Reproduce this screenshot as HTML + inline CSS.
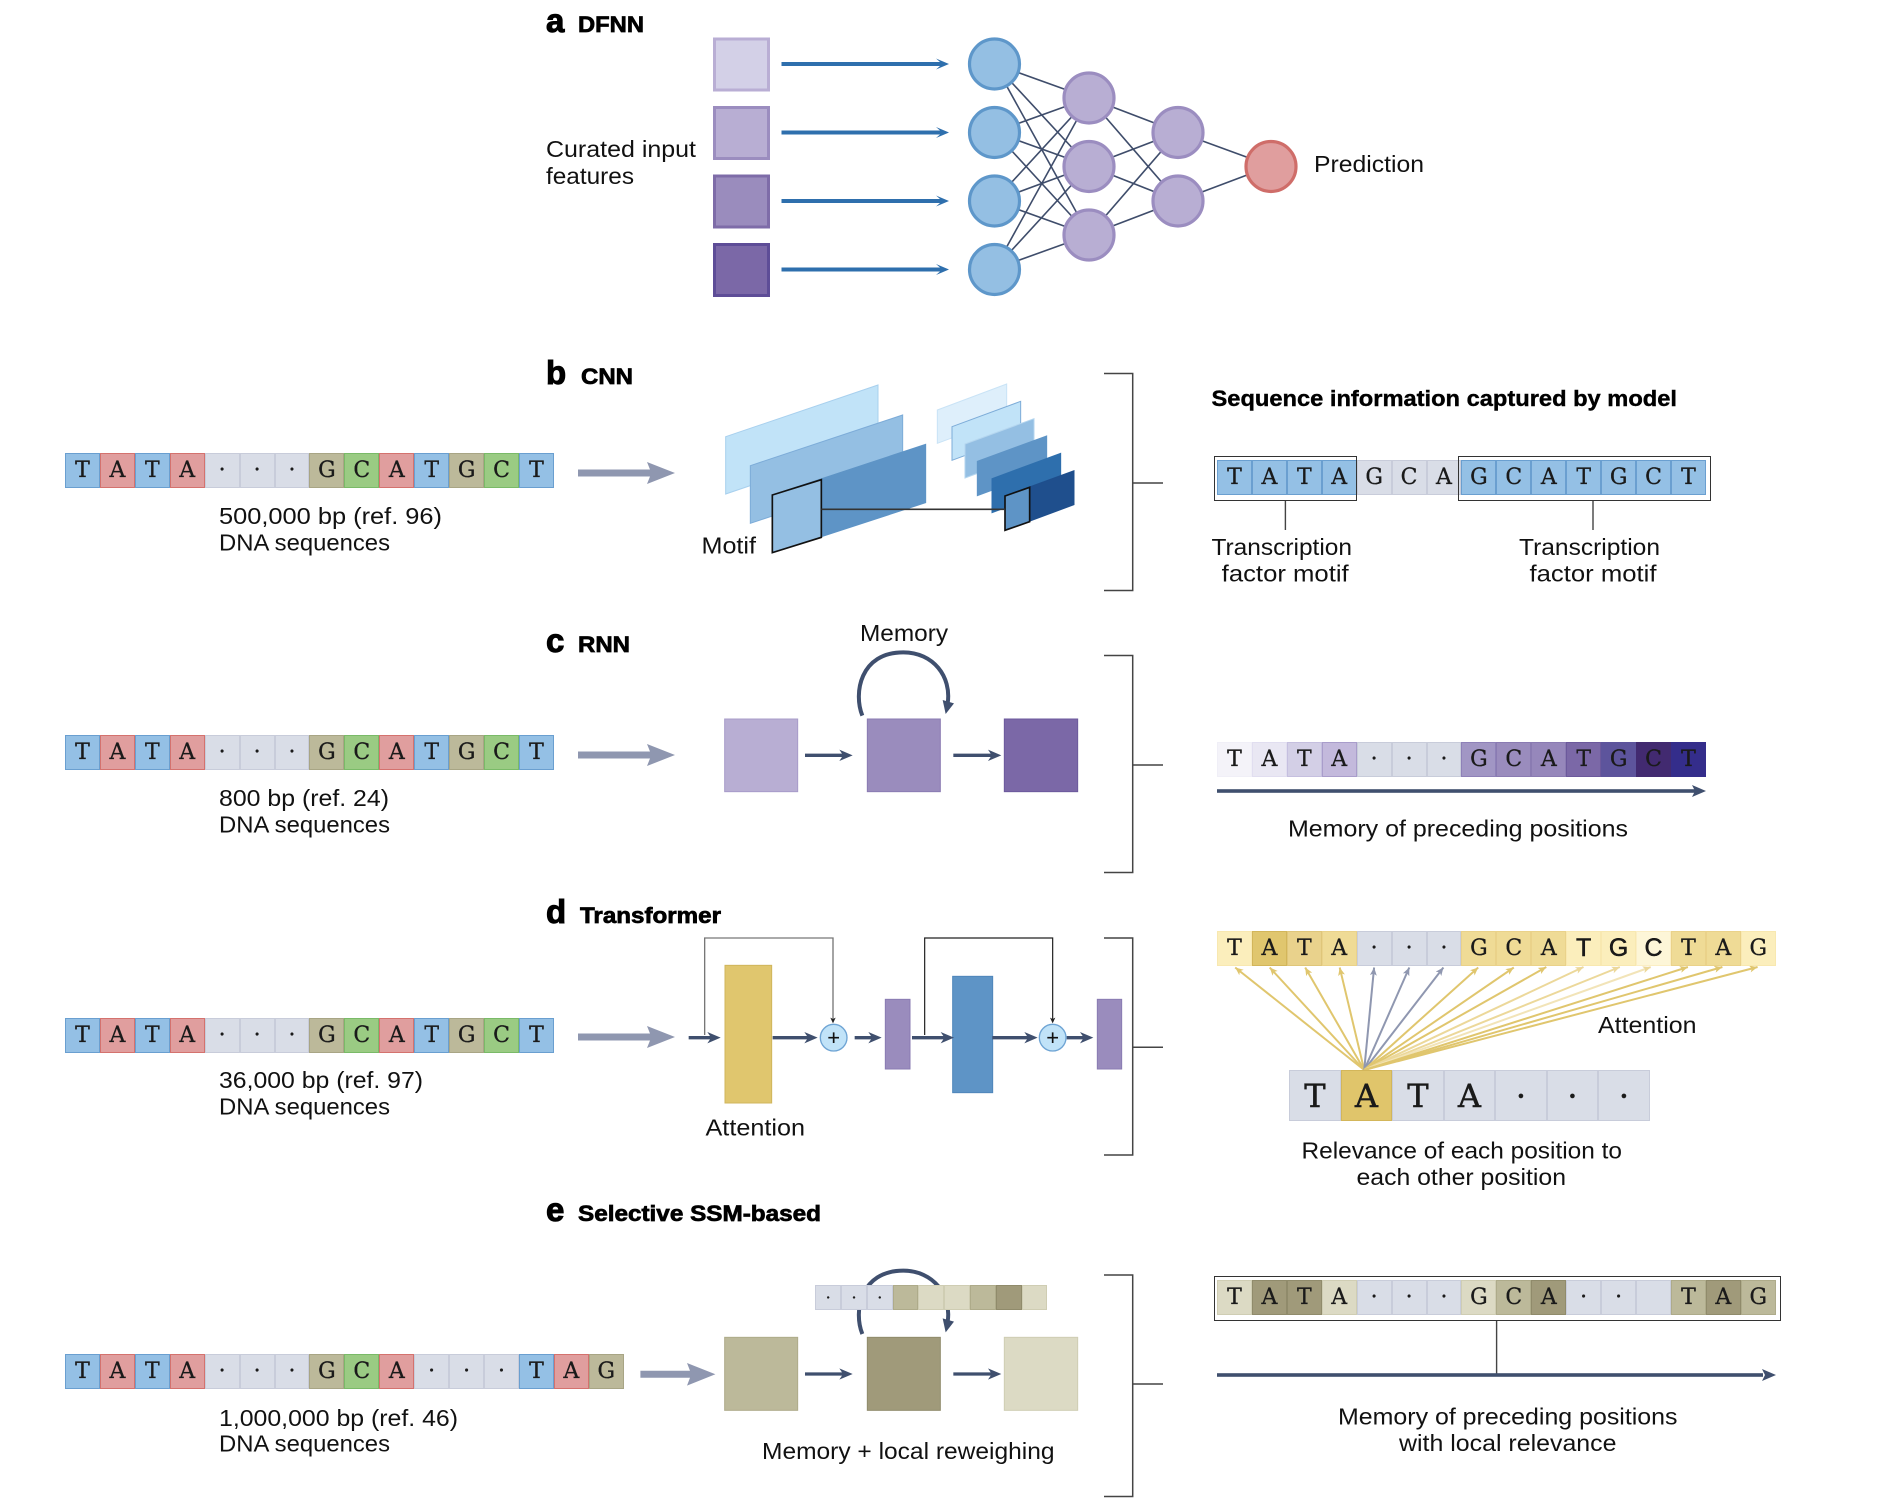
<!DOCTYPE html>
<html>
<head>
<meta charset="utf-8">
<style>
html,body{margin:0;padding:0;background:#fff}
body{position:relative;width:1884px;height:1502px;overflow:hidden}
svg{position:absolute;left:0;top:0}
text{font-family:"Liberation Sans",sans-serif;font-size:23px;fill:#111}
.h{font-weight:bold;font-size:22px;stroke:#000;stroke-width:.7px;fill:#000}
.l{font-weight:bold;font-size:33px;stroke:#000;stroke-width:1px;fill:#000}
.seq{position:absolute;display:flex;font-family:"DejaVu Serif",serif;font-size:22px;color:#1a1a1a;-webkit-text-stroke:.3px #1a1a1a;--w:34.93px;--h:34.7px;--l:34.800px}
.seq span{flex:0 0 var(--w);width:var(--w);height:var(--h);line-height:var(--l);box-sizing:border-box;border:1.5px solid;text-align:center;overflow:hidden}
.seq span.s{font:25px/32px "Liberation Sans",sans-serif;-webkit-text-stroke:.5px #111}
.T{background:#94c0e5;border-color:#6a9fd0!important}
.A{background:#e09e9e;border-color:#d4726e!important}
.D{background:#d9dde7;border-color:#c8ccda!important}
.G{background:#bcb99a;border-color:#a8a585!important}
.C{background:#9acb83;border-color:#7aba68!important}
.y0{background:#fdf6d8;border-color:#fbeec4!important}
.y1{background:#fbeebc;border-color:#f8e8b0!important}
.y2{background:#efdb96;border-color:#ead28a!important}
.y3{background:#e9d28c;border-color:#dfc67a!important}
.y4{background:#e0c66e;border-color:#d3b65a!important}
.o1{background:#dcdac4;border-color:#cfcdb3!important}
.o2{background:#bcb99a;border-color:#aeab8a!important}
.o3{background:#a09a7a;border-color:#908b6b!important}
.box{position:absolute;box-sizing:border-box;border:1.5px solid #333}
</style>
</head>
<body>
<svg width="1884" height="1502" viewBox="0 0 1884 1502">
<defs>
<marker id="my" markerUnits="userSpaceOnUse" markerWidth="9" markerHeight="8" refX="8" refY="3.5" orient="auto"><path d="M0 0L8 3.5L0 7L2 3.5z" fill="#e0c66e"/></marker>
<marker id="ml" markerUnits="userSpaceOnUse" markerWidth="9" markerHeight="8" refX="8" refY="3.5" orient="auto"><path d="M0 0L8 3.5L0 7L2 3.5z" fill="#ecd89a"/></marker>
<marker id="mg" markerUnits="userSpaceOnUse" markerWidth="9" markerHeight="8" refX="8" refY="3.5" orient="auto"><path d="M0 0L8 3.5L0 7L2 3.5z" fill="#8f97b0"/></marker>
</defs>

<!-- a DFNN -->
<text class="l" x="546" y="32">a</text>
<text class="h" x="578" y="32" textLength="66" lengthAdjust="spacingAndGlyphs">DFNN</text>
<text x="546" y="157" textLength="150" lengthAdjust="spacingAndGlyphs">Curated input</text>
<text x="546" y="184" textLength="88" lengthAdjust="spacingAndGlyphs">features</text>
<text x="1314" y="172" textLength="110" lengthAdjust="spacingAndGlyphs">Prediction</text>
<rect x="714.5" y="39" width="54" height="51" fill="#d3d0e7" stroke="#b9aed4" stroke-width="3"/>
<rect x="714.5" y="107.5" width="54" height="51" fill="#b8aed3" stroke="#9b8dbf" stroke-width="3"/>
<rect x="714.5" y="176" width="54" height="51" fill="#9a8cbd" stroke="#7e6ca8" stroke-width="3"/>
<rect x="714.5" y="244.5" width="54" height="51" fill="#7b68a7" stroke="#5e4d97" stroke-width="3"/>
<g fill="#2e6fad">
<path d="M781.5 62H940L936 58.500L949 64L936 69.500L940 66H781.500Z"/>
<path d="M781.5 130.500H940L936 127L949 132.500L936 138L940 134.500H781.500Z"/>
<path d="M781.5 199H940L936 195.500L949 201L936 206.500L940 203H781.500Z"/>
<path d="M781.5 267.500H940L936 264L949 269.500L936 275L940 271.500H781.500Z"/>
</g>
<g stroke="#3f4d6b" stroke-width="1.6">
<path fill="none" d="M994.5 64L1089 98M994.5 64L1089 166M994.5 64L1089 235M994.5 132L1089 98M994.5 132L1089 166M994.5 132L1089 235M994.5 201L1089 98M994.5 201L1089 166M994.5 201L1089 235M994.5 269L1089 98M994.5 269L1089 166M994.5 269L1089 235M1089 98L1178 132M1089 98L1178 201M1089 166L1178 132M1089 166L1178 201M1089 235L1178 132M1089 235L1178 201M1178 132L1271 166M1178 201L1271 166"/>
</g>
<g fill="#94bfe3" stroke="#5e97ca" stroke-width="3.2">
<circle cx="994.500" cy="64" r="25"/><circle cx="994.500" cy="132.500" r="25"/><circle cx="994.500" cy="201" r="25"/><circle cx="994.500" cy="269.500" r="25"/>
</g>
<g fill="#b8aed3" stroke="#9b8dc0" stroke-width="3.2">
<circle cx="1089" cy="98" r="25"/><circle cx="1089" cy="166.500" r="25"/><circle cx="1089" cy="235" r="25"/>
<circle cx="1178" cy="132.500" r="25"/><circle cx="1178" cy="201" r="25"/>
</g>
<circle cx="1271" cy="166.500" r="25" fill="#e09e9e" stroke="#cf6d69" stroke-width="3.2"/>

<!-- Left labels and big arrows -->
<g fill="#8f97b0">
<path d="M578 469.500H650L647 462L675 473L647 484L650 476.500H578Z"/>
<path d="M578 751.500H650L647 744L675 755L647 766L650 758.500H578Z"/>
<path d="M578 1033.500H650L647 1026L675 1037L647 1048L650 1040.500H578Z"/>
<path d="M640.400 1370.800H690L687 1363L715.400 1374.300L687 1385.600L690 1377.800H640.400Z"/>
</g>
<text x="219" y="524" textLength="223" lengthAdjust="spacingAndGlyphs">500,000 bp (ref. 96)</text>
<text x="219" y="550.500" textLength="171" lengthAdjust="spacingAndGlyphs">DNA sequences</text>
<text x="219" y="806" textLength="170" lengthAdjust="spacingAndGlyphs">800 bp (ref. 24)</text>
<text x="219" y="832.500" textLength="171" lengthAdjust="spacingAndGlyphs">DNA sequences</text>
<text x="219" y="1088" textLength="204" lengthAdjust="spacingAndGlyphs">36,000 bp (ref. 97)</text>
<text x="219" y="1114.500" textLength="171" lengthAdjust="spacingAndGlyphs">DNA sequences</text>
<text x="219" y="1426" textLength="239" lengthAdjust="spacingAndGlyphs">1,000,000 bp (ref. 46)</text>
<text x="219" y="1451.700" textLength="171" lengthAdjust="spacingAndGlyphs">DNA sequences</text>

<!-- b CNN -->
<text class="l" x="546" y="384">b</text>
<text class="h" x="581" y="384" textLength="52" lengthAdjust="spacingAndGlyphs">CNN</text>
<text class="h" x="1211.500" y="406" textLength="465.500" lengthAdjust="spacingAndGlyphs" style="stroke-width:.4px">Sequence information captured by model</text>
<g transform="translate(680,350) scale(.33333)">
<polygon points="137,260 594,105 594,277 137,432" fill="#c1e3f8" stroke="#a8d0ee" stroke-width="3"/>
<polygon points="211,347 668,195 668,368 211,520" fill="#94bfe3" stroke="#7dacd8" stroke-width="3"/>
<polygon points="277,435 737,283 737,458 277,608" fill="#5e94c6" stroke="#5e94c6" stroke-width="3"/>
<polygon points="277,435 424,389 424,562 277,608" fill="#94bfe3" stroke="#111" stroke-width="5"/>
<polygon points="772,180 980,102 980,203 772,280" fill="#deeffb" stroke="#c9e3f6" stroke-width="3"/>
<polygon points="816,230 1022,154 1022,255 816,331" fill="#c1e3f8" stroke="#7dacd8" stroke-width="3"/>
<polygon points="855,282 1062,206 1062,307 855,384" fill="#94bfe3" stroke="#b5d6ef" stroke-width="3"/>
<polygon points="892,334 1100,258 1100,360 892,437" fill="#5e94c6" stroke="#5e94c6" stroke-width="3"/>
<polygon points="936,386 1142,310 1142,412 936,488" fill="#2e6fad" stroke="#2e6fad" stroke-width="3"/>
<polygon points="975,438 1182,362 1182,464 975,541" fill="#1f4f8d" stroke="#1f4f8d" stroke-width="3"/>
<polygon points="975,438 1049,412 1049,515 975,541" fill="#5e94c6" stroke="#111" stroke-width="5"/>
<line x1="424" y1="478" x2="975" y2="478" stroke="#333" stroke-width="5"/>
</g>
<text x="701.500" y="553.300" textLength="54.500" lengthAdjust="spacingAndGlyphs">Motif</text>
<path d="M1104 373.500H1132.700V590.500H1104M1132.700 483H1163" fill="none" stroke="#444" stroke-width="1.5"/>
<path d="M1285.400 500V530M1593 500V530" fill="none" stroke="#444" stroke-width="1.4"/>
<text x="1211.500" y="555" textLength="140.500" lengthAdjust="spacingAndGlyphs">Transcription</text>
<text x="1221.700" y="581.700" textLength="127" lengthAdjust="spacingAndGlyphs">factor motif</text>
<text x="1519" y="555" textLength="141" lengthAdjust="spacingAndGlyphs">Transcription</text>
<text x="1529.500" y="581.700" textLength="127" lengthAdjust="spacingAndGlyphs">factor motif</text>

<!-- c RNN -->
<text class="l" x="546" y="652">c</text>
<text class="h" x="578" y="652" textLength="52" lengthAdjust="spacingAndGlyphs">RNN</text>
<text x="860" y="641" textLength="88" lengthAdjust="spacingAndGlyphs">Memory</text>
<g transform="translate(680,620) scale(.33333)">
<rect x="134" y="297" width="219" height="218" fill="#b8aed3" stroke="#a89cc9" stroke-width="3"/>
<rect x="562" y="297" width="219" height="218" fill="#9a8cbd" stroke="#8a7bb2" stroke-width="3"/>
<rect x="973" y="297" width="220" height="218" fill="#7b68a7" stroke="#6c599c" stroke-width="3"/>
<path d="M547 287C520 220 540 97 670 97C760 97 815 170 803 250" fill="none" stroke="#3f4f6e" stroke-width="12"/>
<polygon points="788,240 822,250 797,282" fill="#3f4f6e"/>
<path d="M375 401H486L478 389L518 406L478 423L486 411H375ZM820 401H932L924 389L964 406L924 423L932 411H820Z" fill="#3f4f6e"/>
</g>
<path d="M1104 655.500H1132.700V872.500H1104M1132.700 765H1163" fill="none" stroke="#444" stroke-width="1.5"/>
<rect x="1217" y="789.200" width="478" height="3.600" fill="#3f4f6e"/>
<polygon points="1692,785 1706,791 1692,797 1695,791" fill="#3f4f6e"/>
<text x="1288" y="836.700" textLength="340" lengthAdjust="spacingAndGlyphs">Memory of preceding positions</text>

<!-- d Transformer -->
<text class="l" x="546" y="923">d</text>
<text class="h" x="580" y="923" textLength="141" lengthAdjust="spacingAndGlyphs">Transformer</text>
<g transform="translate(680,920) scale(.33333)">
<path d="M74 345V54H459V300" fill="none" stroke="#777" stroke-width="4"/>
<path d="M734 345V54H1118V300" fill="none" stroke="#222" stroke-width="3.600"/>
<polygon points="451,293 459,310 467,293 459,297" fill="#222"/>
<polygon points="1110,293 1118,310 1126,293 1118,297" fill="#222"/>
<rect x="135" y="136" width="140" height="413" fill="#e0c66e" stroke="#d0b65c" stroke-width="3"/>
<rect x="616" y="238" width="74" height="209" fill="#9a8cbd" stroke="#8a7bb2" stroke-width="3"/>
<rect x="818" y="169" width="120" height="349" fill="#5e94c6" stroke="#4f86bb" stroke-width="3"/>
<rect x="1252" y="238" width="73" height="209" fill="#9a8cbd" stroke="#8a7bb2" stroke-width="3"/>
<path d="M26 348H90L82 336L122 353L82 370L90 358H26ZM278 348H381L373 336L413 353L373 370L381 358H278ZM524 348H573L565 336L605 353L565 370L573 358H524ZM696 348H790L782 336L822 353L782 370L790 358H696ZM937 348H1041L1033 336L1073 353L1033 370L1041 358H937ZM1160 348H1208L1200 336L1240 353L1200 370L1208 358H1160Z" fill="#3f4f6e"/>
<circle cx="461" cy="353" r="40" fill="#c1e3f8" stroke="#6ea4d4" stroke-width="4"/>
<circle cx="1118" cy="353" r="40" fill="#c1e3f8" stroke="#6ea4d4" stroke-width="4"/>
<path d="M445 353H477M461 337V369M1102 353H1134M1118 337V369" stroke="#111" stroke-width="5" fill="none"/>
</g>
<text x="705.500" y="1135.700" textLength="99.500" lengthAdjust="spacingAndGlyphs">Attention</text>
<path d="M1104 938H1132.700V1155H1104M1132.700 1047.300H1163" fill="none" stroke="#444" stroke-width="1.5"/>
<g fill="none" stroke-width="2">
<path stroke="#e0c66e" marker-end="url(#my)" d="M1364.200 1070L1235.200 967.500"/>
<path stroke="#e0c66e" marker-end="url(#my)" d="M1364.200 1070L1269.700 967.500"/>
<path stroke="#e0c66e" marker-end="url(#my)" d="M1364.200 1070L1305.200 967.500"/>
<path stroke="#e0c66e" marker-end="url(#my)" d="M1364.200 1070L1339.700 967.500"/>
<path stroke="#8f97b0" marker-end="url(#mg)" d="M1364.200 1070L1374.100 967.500"/>
<path stroke="#8f97b0" marker-end="url(#mg)" d="M1364.200 1070L1409.300 967.500"/>
<path stroke="#8f97b0" marker-end="url(#mg)" d="M1364.200 1070L1443.400 967.500"/>
<path stroke="#e0c66e" marker-end="url(#my)" d="M1364.200 1070L1478.200 967.500"/>
<path stroke="#e0c66e" marker-end="url(#my)" d="M1364.200 1070L1513.800 967.500"/>
<path stroke="#e0c66e" marker-end="url(#my)" d="M1364.200 1070L1546.300 967"/>
<path stroke="#ecd89a" marker-end="url(#ml)" d="M1364.200 1070L1583.500 967"/>
<path stroke="#ecd89a" marker-end="url(#ml)" d="M1364.200 1070L1619.800 967"/>
<path stroke="#f2e4b8" marker-end="url(#ml)" d="M1364.200 1070L1650.800 967"/>
<path stroke="#e0c66e" marker-end="url(#my)" d="M1364.200 1070L1687.900 967"/>
<path stroke="#e0c66e" marker-end="url(#my)" d="M1364.200 1070L1722.400 967"/>
<path stroke="#e0c66e" marker-end="url(#my)" d="M1364.200 1070L1757.600 967"/>
</g>
<text x="1598" y="1033" textLength="98.500" lengthAdjust="spacingAndGlyphs">Attention</text>
<text x="1301.500" y="1158.300" textLength="320.500" lengthAdjust="spacingAndGlyphs">Relevance of each position to</text>
<text x="1356.500" y="1185" textLength="209.500" lengthAdjust="spacingAndGlyphs">each other position</text>

<!-- e SSM -->
<text class="l" x="546" y="1221">e</text>
<text class="h" x="578" y="1221" textLength="243" lengthAdjust="spacingAndGlyphs">Selective SSM-based</text>
<g transform="translate(680,1260) scale(.33333)">
<rect x="134" y="232" width="219" height="219" fill="#bcb99a" stroke="#aeab8a" stroke-width="3"/>
<rect x="562" y="232" width="219" height="219" fill="#a09a7a" stroke="#908b6b" stroke-width="3"/>
<rect x="973" y="232" width="220" height="219" fill="#dcdac4" stroke="#cfcdb3" stroke-width="3"/>
<path d="M547 222C520 155 540 32 670 32C760 32 815 105 803 185" fill="none" stroke="#3f4f6e" stroke-width="12"/>
<polygon points="788,175 822,185 797,217" fill="#3f4f6e"/>
<path d="M375 337H486L478 325L518 342L478 359L486 347H375ZM820 337H932L924 325L964 342L924 359L932 347H820Z" fill="#3f4f6e"/>
</g>
<text x="762" y="1459" textLength="292.500" lengthAdjust="spacingAndGlyphs">Memory + local reweighing</text>
<path d="M1104 1275H1132.700V1496.500H1104M1132.700 1384H1163" fill="none" stroke="#444" stroke-width="1.5"/>
<path d="M1496.600 1320V1375" fill="none" stroke="#444" stroke-width="1.4"/>
<rect x="1217" y="1373.200" width="546" height="3.600" fill="#3f4f6e"/>
<polygon points="1762,1369 1776,1375 1762,1381 1765,1375" fill="#3f4f6e"/>
<text x="1338" y="1424.300" textLength="339.500" lengthAdjust="spacingAndGlyphs">Memory of preceding positions</text>
<text x="1399" y="1451" textLength="217.500" lengthAdjust="spacingAndGlyphs">with local relevance</text>
</svg>

<!-- Left sequences -->
<div class="seq" style="left:65px;top:453px"><span class="T">T</span><span class="A">A</span><span class="T">T</span><span class="A">A</span><span class="D">·</span><span class="D">·</span><span class="D">·</span><span class="G">G</span><span class="C">C</span><span class="A">A</span><span class="T">T</span><span class="G">G</span><span class="C">C</span><span class="T">T</span></div>
<div class="seq" style="left:65px;top:735px"><span class="T">T</span><span class="A">A</span><span class="T">T</span><span class="A">A</span><span class="D">·</span><span class="D">·</span><span class="D">·</span><span class="G">G</span><span class="C">C</span><span class="A">A</span><span class="T">T</span><span class="G">G</span><span class="C">C</span><span class="T">T</span></div>
<div class="seq" style="left:65px;top:1018px"><span class="T">T</span><span class="A">A</span><span class="T">T</span><span class="A">A</span><span class="D">·</span><span class="D">·</span><span class="D">·</span><span class="G">G</span><span class="C">C</span><span class="A">A</span><span class="T">T</span><span class="G">G</span><span class="C">C</span><span class="T">T</span></div>
<div class="seq" style="left:65px;top:1354px"><span class="T">T</span><span class="A">A</span><span class="T">T</span><span class="A">A</span><span class="D">·</span><span class="D">·</span><span class="D">·</span><span class="G">G</span><span class="C">C</span><span class="A">A</span><span class="D">·</span><span class="D">·</span><span class="D">·</span><span class="T">T</span><span class="A">A</span><span class="G">G</span></div>

<!-- b right -->
<div class="seq" style="left:1217px;top:460px"><span class="T">T</span><span class="T">A</span><span class="T">T</span><span class="T">A</span><span class="D">G</span><span class="D">C</span><span class="D">A</span><span class="T">G</span><span class="T">C</span><span class="T">A</span><span class="T">T</span><span class="T">G</span><span class="T">C</span><span class="T">T</span></div>
<div class="box" style="left:1213.500px;top:455.500px;width:143.500px;height:45px"></div>
<div class="box" style="left:1458px;top:455.500px;width:253px;height:45px"></div>

<!-- c right -->
<div class="seq" style="left:1217px;top:742px"><span style="background:#f4f3f9;border-color:#f0eff7">T</span><span style="background:#e9e7f3;border-color:#e1def0">A</span><span style="background:#d3cfe6;border-color:#c5bfdf">T</span><span style="background:#c3b9dc;border-color:#a99dcb">A</span><span class="D">·</span><span class="D">·</span><span class="D">·</span><span style="background:#a196c4;border-color:#8e81b8">G</span><span style="background:#9a8cbd;border-color:#8a7bb2">C</span><span style="background:#9687bb;border-color:#8a7bb2">A</span><span style="background:#7b68a7;border-color:#6c599c">T</span><span style="background:#5d549c;border-color:#5d549c">G</span><span style="background:#422a70;border-color:#422a70">C</span><span style="background:#342d8b;border-color:#342d8b">T</span></div>

<!-- d right -->
<div class="seq" style="left:1217px;top:931px"><span class="y1">T</span><span class="y4">A</span><span class="y3">T</span><span class="y2">A</span><span class="D">·</span><span class="D">·</span><span class="D">·</span><span class="y2">G</span><span class="y2">C</span><span class="y2">A</span><span class="y1 s">T</span><span class="y1 s">G</span><span class="y0 s">C</span><span class="y2">T</span><span class="y2">A</span><span class="y1">G</span></div>
<div class="seq" style="left:1289.200px;top:1070px;--w:51.500px;--h:50.700px;--l:50.200px;font-size:32px;-webkit-text-stroke:.5px #1a1a1a"><span class="D">T</span><span class="y4" style="background:#e0c56b;border-color:#c9a94f">A</span><span class="D">T</span><span class="D">A</span><span class="D">·</span><span class="D">·</span><span class="D">·</span></div>

<!-- e right -->
<div class="seq" style="left:1217px;top:1280px"><span class="o1">T</span><span class="o3">A</span><span class="o3">T</span><span class="o1">A</span><span class="D">·</span><span class="D">·</span><span class="D">·</span><span class="o1">G</span><span class="o2">C</span><span class="o3">A</span><span class="D">·</span><span class="D">·</span><span class="D"></span><span class="o2">T</span><span class="o3">A</span><span class="o2">G</span></div>
<div class="box" style="left:1213.500px;top:1275.500px;width:567px;height:45px"></div>

<!-- e strip -->
<div class="seq" style="left:815.300px;top:1285px;--w:25.800px;--h:25.300px;--l:24.600px;font-size:16px"><span class="D">·</span><span class="D">·</span><span class="D">·</span><span class="o2"></span><span class="o1"></span><span class="o1"></span><span class="o2"></span><span class="o3"></span><span class="o1"></span></div>
</body>
</html>
